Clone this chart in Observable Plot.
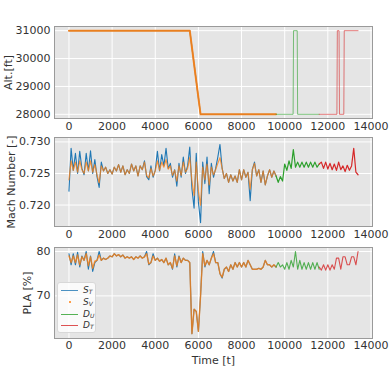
<!DOCTYPE html>
<html>
<head>
<meta charset="utf-8">
<script src="https://cdn.jsdelivr.net/npm/d3@7"></script>
<script src="https://cdn.jsdelivr.net/npm/@observablehq/plot@0.6"></script>
<style>
  html, body { margin: 0; padding: 0; background: #fff; }
  #wrap { position: relative; width: 392px; height: 386px; font-family: "DejaVu Sans", sans-serif; }
  #wrap > .panel { position: absolute; left: 0; }
  #wrap svg { overflow: visible; }
  #legend { position: absolute; left: 57px; top: 282px; width: 39px; height: 51px;
    background: rgba(255,255,255,0.8); border: 1px solid #d8d8d8; border-radius: 3px; box-sizing: border-box; }
  #legend .row { position: absolute; left: 0; height: 12px; width: 38px; }
  #legend .sw { position: absolute; left: 3px; top: 6px; width: 17px; height: 0; }
  #legend .lab { position: absolute; left: 25px; top: 0; font-size: 9px; font-style: italic; color: #333; line-height: 12px; }
  #legend sub { font-size: 6px; vertical-align: -1px; }
</style>
</head>
<body>
<div id="wrap"></div>
<script>
// ---------------- data ----------------
const xTicks = [0, 2000, 4000, 6000, 8000, 10000, 12000, 14000];
const altTicks = [28000, 29000, 30000, 31000];
const machTicks = [0.720, 0.725, 0.730];
const plaTicks = [70, 80];

// sample grid (time) for the sampled series
const sStart = 0, sStep = 100;       // S_T / S_V : 0 .. 9600
const uStart = 9600, uStep = 100;    // D_U : 9600 .. 11600
const tStart = 11600, tStep = 100;   // D_T : 11600 .. 13400

// Altitude (breakpoints)
const altST_t = [0, 5600, 6100, 9600];
const altST_v = [31000, 31000, 28000, 28000];
const altSV_t = [0, 5600, 6100, 9600];
const altSV_v = [31000, 31000, 28000, 28000];
const altDU_t = [9600, 10390, 10410, 10580, 10600, 11600];
const altDU_v = [28000, 28000, 31000, 31000, 28000, 28000];
const altDT_t = [11600, 12420, 12440, 12520, 12540, 12740, 12760, 13400];
const altDT_v = [28000, 28000, 31000, 31000, 28000, 28000, 31000, 31000];

// Mach number
const machST = [0.7222,0.7290,0.7255,0.7282,0.7250,0.7285,0.7258,0.7248,0.7282,0.7254,
  0.7286,0.7250,0.7272,0.7245,0.7228,0.7268,0.7254,0.7260,0.7250,0.7256,
  0.7249,0.7260,0.7254,0.7264,0.7252,0.7262,0.7248,0.7256,0.7250,0.7265,
  0.7254,0.7262,0.7246,0.7262,0.7256,0.7270,0.7245,0.7240,0.7262,0.7244,
  0.7255,0.7285,0.7254,0.7280,0.7262,0.7290,0.7258,0.7266,0.7244,0.7256,
  0.7230,0.7266,0.7244,0.7276,0.7250,0.7262,0.7292,0.7226,0.7195,0.7282,
  0.7205,0.7172,0.7268,0.7234,0.7276,0.7218,0.7266,0.7244,0.7258,0.7276,
  0.7296,0.7258,0.7242,0.7250,0.7236,0.7248,0.7238,0.7246,0.7236,0.7256,
  0.7240,0.7256,0.7244,0.7252,0.7207,0.7256,0.7268,0.7246,0.7256,0.7236,
  0.7254,0.7232,0.7246,0.7256,0.7244,0.7254,0.7246];
const machSV = [0.7240,0.7270,0.7255,0.7268,0.7252,0.7270,0.7256,0.7250,0.7268,0.7254,
  0.7270,0.7252,0.7264,0.7248,0.7235,0.7262,0.7254,0.7260,0.7250,0.7256,
  0.7249,0.7260,0.7254,0.7264,0.7252,0.7262,0.7248,0.7256,0.7250,0.7265,
  0.7254,0.7262,0.7246,0.7262,0.7256,0.7268,0.7247,0.7243,0.7258,0.7246,
  0.7254,0.7270,0.7255,0.7268,0.7260,0.7272,0.7257,0.7262,0.7247,0.7255,
  0.7238,0.7262,0.7247,0.7268,0.7252,0.7258,0.7275,0.7238,0.7215,0.7268,
  0.7222,0.7200,0.7260,0.7240,0.7265,0.7232,0.7260,0.7248,0.7256,0.7266,
  0.7275,0.7258,0.7242,0.7250,0.7236,0.7248,0.7238,0.7246,0.7236,0.7256,
  0.7240,0.7256,0.7244,0.7252,0.7225,0.7256,0.7266,0.7246,0.7256,0.7236,
  0.7254,0.7232,0.7246,0.7256,0.7244,0.7254,0.7246];
const machDU = [0.7246,0.7236,0.7245,0.7238,0.7265,0.7255,0.7270,0.7258,0.7288,0.7260,
  0.7268,0.7260,0.7268,0.7260,0.7268,0.7260,0.7268,0.7260,0.7268,0.7260,0.7265];
const machDT = [0.7265,0.7268,0.7258,0.7268,0.7257,0.7266,0.7256,0.7265,0.7255,0.7268,
  0.7256,0.7262,0.7253,0.7263,0.7255,0.7262,0.7290,0.7252,0.7248];

// PLA
const plaST = [79.5,77.0,79.5,77.0,79.8,76.5,79.0,78.0,80.0,76.0,
  79.0,75.5,77.5,78.0,80.0,78.0,78.5,78.2,78.5,79.0,
  78.8,79.5,79.0,79.3,78.8,79.2,78.5,78.8,78.5,78.8,
  78.2,78.8,78.5,79.0,78.5,78.8,80.0,77.0,77.5,79.5,
  78.0,78.5,77.8,78.2,77.5,78.5,77.0,77.5,76.0,79.5,
  76.5,79.0,77.5,78.5,78.0,78.0,77.5,61.5,67.0,66.5,
  62.0,70.0,80.0,76.5,78.0,77.0,78.5,80.0,77.5,77.5,
  75.0,74.0,76.0,76.5,75.5,77.0,76.0,77.5,76.5,77.5,
  76.5,77.5,76.5,78.0,77.0,76.0,76.0,76.0,76.2,76.0,
  76.5,78.0,77.0,77.0,76.5,77.0,76.5];
const plaSV = [79.0,77.5,79.0,77.5,79.2,77.0,78.8,78.0,79.5,76.8,
  78.8,76.2,77.8,78.0,79.2,78.0,78.5,78.2,78.5,79.0,
  78.8,79.5,79.0,79.3,78.8,79.2,78.5,78.8,78.5,78.8,
  78.2,78.8,78.5,79.0,78.5,78.8,79.5,77.2,77.5,79.0,
  78.0,78.5,77.8,78.2,77.5,78.5,77.0,77.5,76.2,79.0,
  76.8,78.8,77.5,78.5,78.0,78.0,77.5,61.5,67.0,66.5,
  62.0,70.0,79.5,76.8,78.0,77.0,78.5,79.5,77.5,77.5,
  75.0,74.2,76.0,76.5,75.5,77.0,76.0,77.5,76.5,77.5,
  76.5,77.5,76.5,78.0,77.0,76.0,76.0,76.0,76.2,76.0,
  76.5,78.0,77.0,77.0,76.5,77.0,76.5];
const plaDU = [76.5,77.5,76.5,77.0,76.0,77.5,76.0,78.0,76.5,80.0,
  76.0,78.0,76.0,77.5,76.0,77.5,76.0,77.5,76.0,77.5,76.0];
const plaDT = [76.5,75.8,77.0,75.8,77.0,75.8,77.0,76.0,78.5,78.5,
  76.0,78.8,78.8,77.0,77.0,78.8,78.8,77.0,80.0];

const colors = {ST: "#1f77b4", SV: "#ff7f0e", DU: "#2ca02c", DT: "#d62728"};

// ---------------- helpers ----------------
function sampled(values, start, step) {
  return values.map((v, i) => ({t: start + i * step, v}));
}
function paired(ts, vs) {
  return ts.map((t, i) => ({t, v: vs[i]}));
}

function panel({top, height, marginTop, marginBottom, yDomain, yTicks, yFormat, yLabel, yLabelOffset, xLabel, xLabelOffset, series, tickPadX}) {
  const lineMarks = series.map(s => Plot.line(s.data, {x: "t", y: "v", stroke: s.color, strokeWidth: s.width, strokeOpacity: s.opacity ?? 1}));
  const svg = Plot.plot({
    width: 392, height, marginLeft: 54, marginRight: 20, marginTop, marginBottom,
    style: {fontFamily: "DejaVu Sans, sans-serif", fontSize: "11px", color: "#333", background: "transparent", overflow: "visible"},
    x: {domain: [-670, 14070]},
    y: {domain: yDomain},
    marks: [
      Plot.frame({fill: "#e5e5e5"}),
      Plot.gridX(xTicks, {stroke: "white", strokeOpacity: 1, strokeWidth: 1}),
      Plot.gridY(yTicks, {stroke: "white", strokeOpacity: 1, strokeWidth: 1}),
      ...lineMarks,
      Plot.frame({stroke: "#9a9a9a", strokeWidth: 1}),
      Plot.axisX(xTicks, {tickSize: 0, tickPadding: tickPadX, tickFormat: d => String(d), label: xLabel, labelAnchor: "center", labelArrow: "none", labelOffset: xLabelOffset}),
      Plot.axisY(yTicks, {tickSize: 0, tickPadding: 4, tickFormat: yFormat, label: yLabel, labelAnchor: "center", labelArrow: "none", labelOffset: yLabelOffset})
    ]
  });
  const div = document.createElement("div");
  div.className = "panel";
  div.style.top = top + "px";
  div.appendChild(svg);
  return div;
}

const wrap = document.getElementById("wrap");

wrap.appendChild(panel({
  top: 0, height: 136, marginTop: 26, marginBottom: 18,
  yDomain: [27850, 31150], yTicks: altTicks, yFormat: d => String(d),
  yLabel: "Alt.[ft]", yLabelOffset: 50, xLabel: null, xLabelOffset: 0, tickPadX: 4,
  series: [
    {data: paired(altST_t, altST_v), color: colors.ST, width: 1.2},
    {data: paired(altSV_t, altSV_v), color: colors.SV, width: 2, opacity: 0.9},
    {data: paired(altDU_t, altDU_v), color: colors.DU, width: 1, opacity: 0.6},
    {data: paired(altDT_t, altDT_v), color: colors.DT, width: 1, opacity: 0.6}
  ]
}));

wrap.appendChild(panel({
  top: 128, height: 116, marginTop: 9, marginBottom: 18,
  yDomain: [0.7166, 0.7307], yTicks: machTicks, yFormat: d3.format(".3f"),
  yLabel: "Mach Number [-]", yLabelOffset: 47, xLabel: null, xLabelOffset: 0, tickPadX: 4,
  series: [
    {data: sampled(machST, sStart, sStep), color: colors.ST, width: 1.1},
    {data: sampled(machSV, sStart, sStep), color: colors.SV, width: 1.2, opacity: 0.75},
    {data: sampled(machDU, uStart, uStep), color: colors.DU, width: 1.2},
    {data: sampled(machDT, tStart, tStep), color: colors.DT, width: 1.2}
  ]
}));

wrap.appendChild(panel({
  top: 238, height: 148, marginTop: 9, marginBottom: 48,
  yDomain: [60.4, 80.9], yTicks: plaTicks, yFormat: d => String(d),
  yLabel: "PLA [%]", yLabelOffset: 31, xLabel: "Time [t]", xLabelOffset: 25, tickPadX: 3,
  series: [
    {data: sampled(plaST, sStart, sStep), color: colors.ST, width: 1.1},
    {data: sampled(plaSV, sStart, sStep), color: colors.SV, width: 1.4, opacity: 0.8},
    {data: sampled(plaDU, uStart, uStep), color: colors.DU, width: 1.1, opacity: 0.8},
    {data: sampled(plaDT, tStart, tStep), color: colors.DT, width: 1.1, opacity: 0.8}
  ]
}));

// legend
const legendItems = [
  {base: "S", sub: "T", color: colors.ST, kind: "line"},
  {base: "S", sub: "V", color: colors.SV, kind: "dot"},
  {base: "D", sub: "U", color: colors.DU, kind: "line"},
  {base: "D", sub: "T", color: colors.DT, kind: "line"}
];
const legend = document.createElement("div");
legend.id = "legend";
legendItems.forEach((it, i) => {
  const row = document.createElement("div");
  row.className = "row";
  row.style.top = (1 + i * 11.8) + "px";
  const sw = document.createElement("div");
  sw.className = "sw";
  if (it.kind === "line") {
    sw.style.borderTop = "1.2px solid " + it.color;
    sw.style.opacity = "0.8";
  } else {
    sw.innerHTML = `<div style="position:absolute;left:7.5px;top:-1px;width:2px;height:2px;border-radius:1px;background:${it.color}"></div>`;
  }
  const lab = document.createElement("div");
  lab.className = "lab";
  lab.innerHTML = `${it.base}<sub>${it.sub}</sub>`;
  row.appendChild(sw);
  row.appendChild(lab);
  legend.appendChild(row);
});
wrap.appendChild(legend);
</script>
</body>
</html>
